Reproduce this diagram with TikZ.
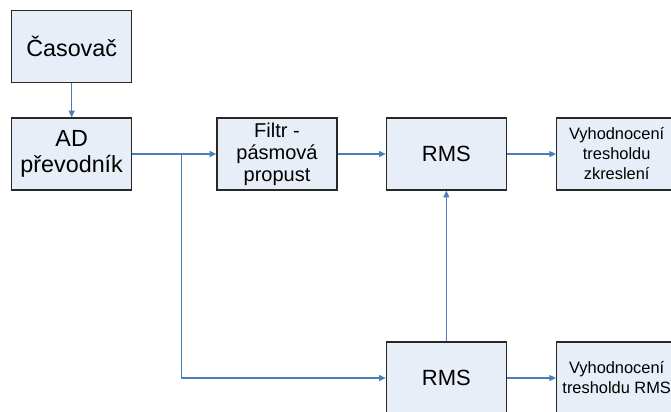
\documentclass[tikz,border=0pt]{standalone}
\usepackage{fontspec}
\setmainfont{Liberation Sans}
\usetikzlibrary{arrows.meta,positioning}
\definecolor{blokfill}{RGB}{232,238,247}
\definecolor{blokdraw}{RGB}{40,40,40}
\definecolor{sipkablue}{RGB}{74,126,187}
\begin{document}
\begin{tikzpicture}[node distance=36pt]
      \tikzstyle{blok}=[rectangle,draw=blokdraw,line width=1pt,fill=blokfill,minimum width=90pt,minimum height=54pt,inner sep=0pt,align=center]
      \tikzstyle{sipka}=[draw=sipkablue,line width=0.8pt,-{Triangle[length=5pt,width=4.5pt]}]
      \useasboundingbox (0,0) rectangle (503.25pt,-308.25pt);
      \node[blok,anchor=north west,font=\fontsize{17.5}{20}\selectfont] (cas) at (8.25pt,-7.5pt) {Časovač};
      \node[blok,below=25.5pt of cas,font=\fontsize{17.5}{19.5}\selectfont] (ad) {AD\\převodník};
      \node[blok,right=63pt of ad,font=\fontsize{15}{16.5}\selectfont] (filtr) {Filtr -\\pásmová\\propust};
      \node[blok,right=of filtr,font=\fontsize{16.5}{19}\selectfont] (rmsa) {RMS};
      \node[blok,right=36.75pt of rmsa,font=\fontsize{12.3}{15}\selectfont] (vyha) {Vyhodnocení\\tresholdu\\zkreslení};
      \node[blok,below=113pt of rmsa,font=\fontsize{16.5}{19}\selectfont] (rmsb) {RMS};
      \node[blok,right=36.75pt of rmsb,font=\fontsize{12.3}{15}\selectfont] (vyhb) {Vyhodnocení\\tresholdu RMS};
      \coordinate[right=36.75pt of ad.east] (odb);
      \draw[sipka] (cas) -- (ad);
      \draw[sipka] (ad) -- (filtr);
      \draw[sipka] (filtr) -- (rmsa);
      \draw[sipka] (rmsa) -- (vyha);
      \draw[sipka] (odb) |- (rmsb);
      \draw[sipka] (rmsb) -- (rmsa);
      \draw[sipka] (rmsb) -- (vyhb);
    \end{tikzpicture}
\end{document}
